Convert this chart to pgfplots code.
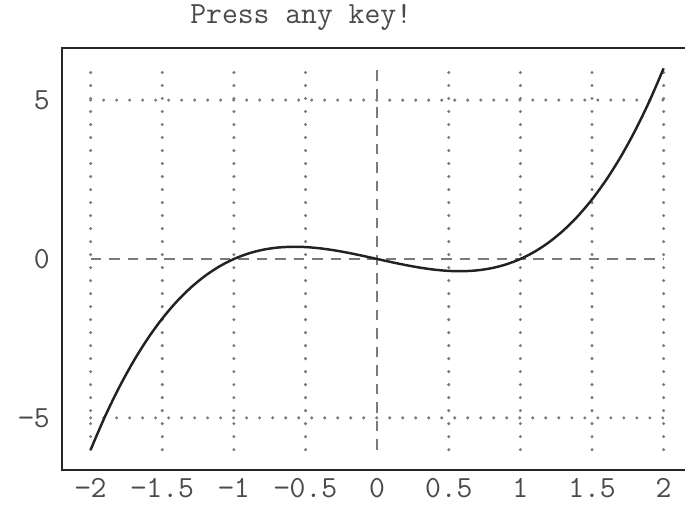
\documentclass[border=0pt]{standalone}
\usepackage{pgfplots}
\pgfplotsset{compat=1.18}
\usepackage{fontspec}
\definecolor{txt}{HTML}{4A4A4A}
\definecolor{gridc}{HTML}{7A7A7A}
\definecolor{curve}{HTML}{222222}

\begin{document}
\begin{tikzpicture}
% page = 685x510 px at 0.02 cm/px; box's right border is cut off
\clip (-1.24,-0.8) rectangle (12.46,9.4);
\begin{axis}[
  at={(0,0)}, anchor=south west,
  scale only axis,
  width=12.606cm, height=8.44cm,
  xmin=-2.2, xmax=2.2,
  ymin=-6.64, ymax=6.64,
  axis line style={draw=black!85, line width=1.3pt},
  xtick={-2,-1.5,-1,-0.5,0,0.5,1,1.5,2},
  xticklabels={−2,−1.5,−1,−0.5,0,0.5,1,1.5,2},
  ytick={-5,0,5},
  yticklabels={−5,0,5},
  major tick length=0pt,
  tick label style={font=\fontsize{17.5}{20}\selectfont\ttfamily, text=txt},
  yticklabel style={xshift=-0.12cm},
  xticklabel style={yshift=-0.05cm},
  clip=false,
]
% dotted grid over the data range
\foreach \gx in {-2,-1.5,-1,-0.5,0.5,1,1.5,2} {
  \edef\tmp{\noexpand\draw[gridc, line width=1.9pt, line cap=round, dash pattern=on 0pt off 7.4pt]
    (axis cs:\gx,-6) -- (axis cs:\gx,6);}
  \tmp
}
\foreach \gy in {-5,5} {
  \edef\tmp{\noexpand\draw[gridc, line width=1.9pt, line cap=round, dash pattern=on 0pt off 7.4pt]
    (axis cs:-2,\gy) -- (axis cs:2,\gy);}
  \tmp
}
% dashed zero lines
\draw[gridc, line width=1.1pt, dash pattern=on 6pt off 4.5pt] (axis cs:0,-6) -- (axis cs:0,6);
\draw[gridc, line width=1.1pt, dash pattern=on 6pt off 4.5pt] (axis cs:-2,0) -- (axis cs:2,0);

\addplot[curve, line width=1.4pt, smooth] coordinates {
  (-2,-6) (-1.9,-4.959) (-1.8,-4.032) (-1.7,-3.213) (-1.6,-2.496) (-1.5,-1.875)
  (-1.4,-1.344) (-1.3,-0.897) (-1.2,-0.528) (-1.1,-0.231) (-1,0)
  (-0.9,0.171) (-0.8,0.288) (-0.7,0.357) (-0.6,0.384) (-0.5,0.375)
  (-0.4,0.336) (-0.3,0.273) (-0.2,0.192) (-0.1,0.099) (0,0)
  (0.1,-0.099) (0.2,-0.192) (0.3,-0.273) (0.4,-0.336) (0.5,-0.375)
  (0.6,-0.384) (0.7,-0.357) (0.8,-0.288) (0.9,-0.171) (1,0)
  (1.1,0.231) (1.2,0.528) (1.3,0.897) (1.4,1.344) (1.5,1.875)
  (1.6,2.496) (1.7,3.213) (1.8,4.032) (1.9,4.959) (2,6)
};

\node[font=\fontsize{17.5}{20}\selectfont\ttfamily, text=txt] at (axis cs:-0.53,7.6) {Press any key!};
\end{axis}
\end{tikzpicture}
\end{document}
